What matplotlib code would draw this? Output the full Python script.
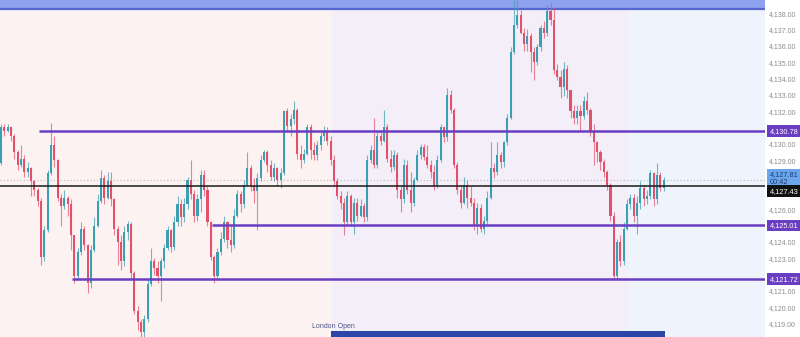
import matplotlib
matplotlib.use("Agg")
import matplotlib.pyplot as plt
import matplotlib.transforms as mtransforms
import numpy as np

plt.rcParams["font.family"] = ["Liberation Sans", "DejaVu Sans"]

# 1-minute candles (open = previous close)
first_open = 4128.8
closes = [4131.0, 4130.8, 4131.0, 4130.5, 4129.5, 4128.7, 4129.1, 4128.3, 4128.5, 4127.7,
          4127.2, 4126.5, 4123.1, 4124.7, 4128.2, 4129.9, 4129.0, 4126.7, 4126.2, 4126.7,
          4126.3, 4124.4, 4121.9, 4123.4, 4124.8, 4123.8, 4121.5, 4123.5, 4125.0, 4126.5,
          4127.9, 4126.7, 4127.7, 4126.6, 4124.8, 4124.0, 4122.8, 4124.6, 4125.1, 4122.1,
          4119.8, 4119.1, 4118.5, 4119.3, 4121.4, 4122.8, 4122.4, 4121.9, 4122.8, 4123.6,
          4124.7, 4123.7, 4125.2, 4126.3, 4125.5, 4126.3, 4127.8, 4126.9, 4125.6, 4126.6,
          4128.1, 4127.2, 4125.2, 4123.1, 4121.9, 4123.4, 4124.2, 4125.2, 4124.1, 4123.8,
          4125.6, 4126.9, 4126.3, 4127.5, 4128.5, 4127.4, 4127.1, 4127.9, 4129.0, 4129.5,
          4128.7, 4128.0, 4128.5, 4127.8, 4128.2, 4132.0, 4131.1, 4131.5, 4132.1, 4129.4,
          4129.0, 4129.4, 4131.0, 4129.6, 4129.3, 4129.9, 4130.5, 4130.8, 4130.2, 4129.0,
          4127.7, 4126.8, 4126.4, 4125.2, 4126.8, 4125.2, 4126.4, 4125.6, 4126.2, 4125.5,
          4129.0, 4129.6, 4128.7, 4130.5, 4130.2, 4131.0, 4129.1, 4128.6, 4129.3, 4127.2,
          4126.6, 4128.7, 4127.2, 4126.4, 4127.8, 4129.3, 4129.8, 4129.2, 4128.7, 4128.3,
          4127.4, 4129.0, 4131.0, 4130.4, 4133.0, 4132.1, 4128.7, 4127.2, 4126.4, 4127.5,
          4126.7, 4126.4, 4125.0, 4126.1, 4124.8, 4125.3, 4126.7, 4128.5, 4128.3, 4129.3,
          4128.9, 4130.1, 4131.6, 4135.6, 4137.3, 4137.9, 4136.8, 4136.1, 4136.6, 4135.6,
          4135.0, 4135.9, 4137.1, 4136.8, 4138.1, 4137.6, 4134.5, 4134.1, 4133.5, 4134.6,
          4133.3, 4132.0, 4131.6, 4132.0, 4131.7, 4132.6, 4132.1, 4130.8, 4130.1, 4129.5,
          4128.9, 4128.3, 4127.5, 4125.6, 4121.9, 4124.0, 4122.8, 4124.8, 4126.3, 4126.7,
          4125.6, 4126.4, 4127.3, 4126.6, 4126.8, 4128.2, 4126.6, 4128.1, 4127.3, 4127.81]
highs = [4131.2, 4131.2, 4131.2, 4131.1, 4130.6, 4129.6, 4129.9, 4129.3, 4128.9, 4128.6,
         4127.8, 4127.3, 4126.7, 4125.0, 4128.4, 4131.3, 4130.5, 4129.1, 4126.9, 4127.2,
         4126.8, 4126.6, 4124.4, 4123.6, 4125.2, 4125.0, 4123.9, 4123.8, 4125.5, 4126.9,
         4128.4, 4128.1, 4128.3, 4128.3, 4126.7, 4125.0, 4124.4, 4125.0, 4125.3, 4125.2,
         4122.2, 4120.1, 4119.3, 4119.5, 4121.7, 4123.6, 4123.0, 4122.8, 4123.0, 4123.9,
         4125.0, 4124.8, 4125.6, 4126.8, 4126.6, 4126.7, 4128.0, 4129.0, 4127.2, 4126.9,
         4128.4, 4128.4, 4127.4, 4125.3, 4123.2, 4123.6, 4124.6, 4125.6, 4125.3, 4125.0,
         4126.0, 4127.2, 4127.1, 4127.8, 4129.5, 4128.7, 4127.9, 4128.2, 4129.3, 4129.6,
         4129.6, 4129.0, 4128.8, 4128.6, 4128.5, 4132.1, 4132.2, 4131.8, 4132.6, 4132.2,
         4129.9, 4129.7, 4131.2, 4131.2, 4130.1, 4130.2, 4130.7, 4131.1, 4131.0, 4130.5,
         4129.3, 4127.9, 4127.1, 4126.7, 4127.1, 4126.9, 4126.7, 4126.7, 4126.6, 4126.4,
         4129.3, 4129.9, 4131.6, 4130.8, 4130.7, 4132.1, 4131.2, 4129.6, 4129.6, 4129.5,
         4127.4, 4129.1, 4129.0, 4128.3, 4128.0, 4129.6, 4130.0, 4130.0, 4129.9, 4129.0,
         4128.7, 4129.3, 4131.2, 4131.1, 4133.4, 4133.3, 4132.2, 4128.9, 4127.5, 4128.0,
         4127.8, 4127.4, 4126.7, 4126.4, 4126.3, 4125.6, 4127.1, 4130.1, 4128.8, 4130.1,
         4129.5, 4130.2, 4131.8, 4135.9, 4138.8, 4138.8, 4138.2, 4137.1, 4137.0, 4136.8,
         4135.9, 4136.1, 4137.3, 4137.5, 4138.5, 4138.6, 4138.4, 4134.9, 4134.5, 4135.0,
         4134.8, 4133.3, 4132.4, 4132.4, 4132.4, 4132.9, 4133.2, 4132.2, 4131.2, 4130.2,
         4129.6, 4129.1, 4128.4, 4127.6, 4125.8, 4124.2, 4124.4, 4125.2, 4126.6, 4126.9,
         4126.9, 4126.8, 4127.7, 4127.5, 4127.2, 4128.4, 4128.3, 4128.8, 4128.3, 4128.0]
lows = [4128.7, 4130.5, 4130.7, 4130.2, 4129.1, 4128.4, 4128.6, 4128.0, 4128.0, 4126.8,
        4126.8, 4126.2, 4122.6, 4122.8, 4124.6, 4128.1, 4128.6, 4126.5, 4125.0, 4126.0,
        4125.6, 4123.5, 4121.5, 4121.7, 4123.2, 4123.5, 4120.9, 4121.2, 4123.4, 4124.9,
        4126.4, 4126.3, 4126.6, 4126.2, 4124.4, 4122.6, 4122.3, 4122.5, 4124.1, 4121.7,
        4119.6, 4118.6, 4118.2, 4118.2, 4119.1, 4121.3, 4122.0, 4121.5, 4120.4, 4122.4,
        4123.5, 4123.4, 4123.5, 4125.0, 4125.0, 4125.2, 4126.0, 4126.6, 4125.2, 4125.3,
        4125.8, 4126.8, 4125.0, 4122.9, 4121.5, 4121.8, 4123.2, 4124.0, 4123.6, 4123.4,
        4123.6, 4125.5, 4125.8, 4126.1, 4127.4, 4127.1, 4126.4, 4124.7, 4127.7, 4128.9,
        4128.3, 4127.8, 4127.7, 4127.4, 4127.3, 4128.1, 4130.7, 4130.5, 4131.2, 4129.1,
        4128.5, 4128.8, 4129.3, 4129.1, 4129.0, 4129.0, 4129.6, 4130.2, 4129.9, 4128.7,
        4127.4, 4126.6, 4126.0, 4124.4, 4125.0, 4125.0, 4124.5, 4125.3, 4125.5, 4125.2,
        4125.3, 4128.8, 4128.5, 4128.5, 4129.9, 4130.1, 4128.9, 4128.3, 4128.4, 4126.7,
        4125.8, 4126.4, 4126.9, 4125.8, 4126.2, 4127.7, 4129.1, 4129.0, 4128.5, 4127.9,
        4127.2, 4127.3, 4128.9, 4130.1, 4130.2, 4131.9, 4128.5, 4126.9, 4126.1, 4126.3,
        4126.1, 4126.2, 4124.7, 4124.5, 4124.6, 4124.5, 4125.0, 4126.6, 4127.9, 4128.1,
        4128.5, 4128.6, 4129.9, 4131.5, 4135.5, 4137.1, 4136.7, 4135.7, 4135.7, 4134.4,
        4133.9, 4134.8, 4135.7, 4136.5, 4136.6, 4137.3, 4134.3, 4133.9, 4132.8, 4132.9,
        4132.8, 4131.6, 4131.2, 4131.2, 4130.8, 4131.5, 4131.8, 4130.5, 4128.7, 4128.9,
        4128.4, 4128.0, 4127.2, 4125.3, 4121.7, 4121.7, 4122.5, 4122.6, 4124.7, 4126.0,
        4125.2, 4124.5, 4126.0, 4126.2, 4126.3, 4126.6, 4126.2, 4126.3, 4127.1, 4127.1]

levels = [4130.78, 4125.01, 4121.72]
level_start = [11.4, 63.4, 21.3]
top_zone = 4138.25
last_price = 4127.81
prev_close = 4127.43
countdown = "00:42"
session_edges = [99.4, 188.3]
session_label = "London Open"
# scale labels (those hidden under the price boxes are left out)
y_ticks = [4119, 4120, 4121, 4122, 4123, 4124, 4126, 4129, 4130,
           4132, 4133, 4134, 4135, 4136, 4137, 4138]

up_col = "#3a9fb0"
down_col = "#e2506a"
purple = "#6a3ec2"

opens = [first_open] + closes[:-1]
n = len(closes)
x = np.arange(n)
o = np.array(opens)
c = np.array(closes)
up = c >= o
cols = np.where(up, up_col, down_col)

fig = plt.figure(figsize=(8, 3.37), dpi=100)
ax = fig.add_axes([0, 0, 765 / 800, 1])
xmin, xmax = -0.3, 229.4
ymin, ymax = 4118.18, 4138.80
ax.set_xlim(xmin, xmax)
ax.set_ylim(ymin, ymax)

# session backgrounds
ax.axvspan(xmin, session_edges[0], color="#fdf2f2", zorder=0, lw=0)
ax.axvspan(session_edges[0], session_edges[1], color="#f4eef8", zorder=0, lw=0)
ax.axvspan(session_edges[1], xmax, color="#eff3fc", zorder=0, lw=0)

# zone at the top
ax.axhspan(top_zone, ymax, color="#8fa2ef", zorder=1, lw=0)
ax.axhline(top_zone, color="#5568cf", lw=1.6, zorder=1)

# candles
ax.vlines(x, lows, highs, colors=cols, lw=0.8, alpha=0.7, zorder=3)
body = np.where(np.abs(c - o) < 0.04, 0.04, c - o)
ax.bar(x, body, bottom=o, width=0.62, color=cols, lw=0, zorder=4)

# levels
for lv, xs in zip(levels, level_start):
    ax.hlines(lv, xs, xmax, color=purple, lw=1.8, zorder=5)
ax.axhline(prev_close, color="#1a1a1a", lw=1.1, zorder=5)
ax.axhline(last_price, color="#b8b8b8", lw=0.8, ls=(0, (1, 2)), zorder=2)

# session marker at the bottom
ax.axhspan(ymin, ymin + 0.38, xmin=(session_edges[0] - 0.3 - xmin) / (xmax - xmin),
           xmax=(199.4 - xmin) / (xmax - xmin), color="#2d45a6", zorder=6, lw=0)
ax.text(session_edges[0] + 0.3, ymin + 0.62, session_label, fontsize=5,
        color="#4e5488", ha="center", va="center", zorder=6)

for s in ax.spines.values():
    s.set_visible(False)
ax.set_xticks([])
ax.yaxis.tick_right()
ax.set_yticks(y_ticks)
ax.set_yticklabels([f"{v:,.2f}" for v in y_ticks])
ax.tick_params(axis="y", length=0, pad=3, labelsize=5.0, labelcolor="#8c8c8c")

# price boxes on the scale
tr = mtransforms.blended_transform_factory(ax.transAxes, ax.transData)
def price_box(y, txt, bg, fg="white"):
    ax.text(1.006, y, txt, transform=tr, fontsize=5.3, color=fg, ha="left",
            va="center", clip_on=False, zorder=10,
            bbox=dict(boxstyle="square,pad=0.3", fc=bg, ec="none"))

for lv in levels:
    price_box(lv, f"{lv:,.2f}", purple)
ax.text(1.006, last_price + 0.05, f"{last_price:,.2f}\n{countdown}", transform=tr,
        fontsize=5.3, color="#1e3a6e", ha="left", va="center", clip_on=False,
        zorder=10, linespacing=1.15,
        bbox=dict(boxstyle="square,pad=0.3", fc="#6aa6ee", ec="none"))
price_box(prev_close - 0.32, f"{prev_close:,.2f}", "#111111")

fig.savefig("out.png", dpi=100, facecolor="white")
